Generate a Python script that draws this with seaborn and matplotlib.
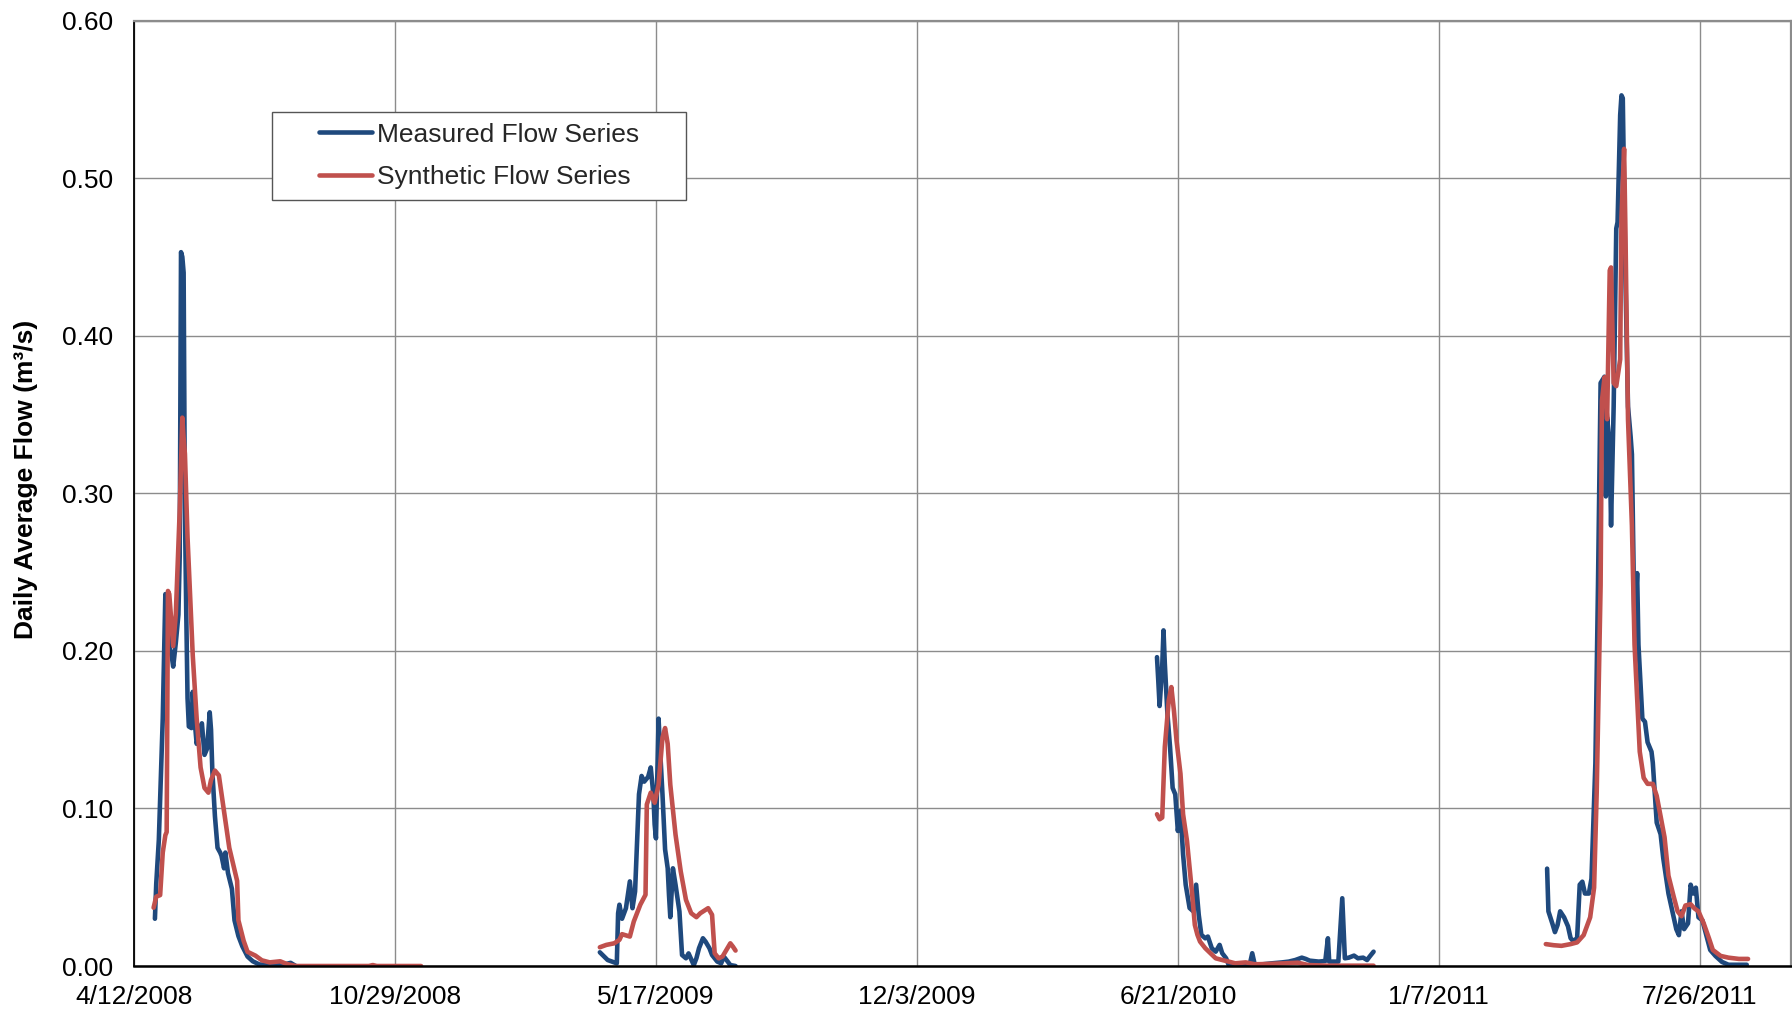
import matplotlib
matplotlib.use("Agg")
import matplotlib.pyplot as plt
from matplotlib.lines import Line2D
from matplotlib.legend_handler import HandlerLine2D
import numpy as np
import pandas as pd
import seaborn as sns

# Record start; all day numbers below count from this date
RECORD_START = "2008-04-12"

# --- Measured flow (m3/s), by season ---
MEASURED_2008_DAY = [16, 17, 19, 22, 24, 25, 27, 29, 30, 32, 34, 35, 36, 37, 38, 39, 40, 41, 42, 44,
                     45, 46, 48, 50, 52, 54, 56, 58, 59, 60, 62, 64, 66, 67, 69, 70, 72, 75, 77, 80,
                     83, 87, 91, 96, 106, 115, 120, 124]
MEASURED_2008_FLOW = [0.030, 0.052, 0.080, 0.157, 0.236, 0.230, 0.203, 0.196, 0.190, 0.205, 0.223,
                      0.260, 0.453, 0.450, 0.440, 0.289, 0.225, 0.170, 0.152, 0.151, 0.174, 0.160,
                      0.141, 0.148, 0.154, 0.134, 0.138, 0.161, 0.150, 0.124, 0.095, 0.075, 0.072,
                      0.070, 0.062, 0.072, 0.059, 0.049, 0.029, 0.019, 0.0125, 0.006, 0.003, 0.001,
                      0.0005, 0.001, 0.002, 0.0]

MEASURED_2009_DAY = [357, 363, 370, 371, 372, 374, 377, 380, 382, 384, 387, 389, 391, 394, 396, 398,
                     399, 400, 402, 403, 405, 407, 409, 410, 411, 413, 415, 418, 420, 423, 425, 429,
                     431, 433, 436, 438, 441, 443, 447, 450, 452, 455, 457, 461]
MEASURED_2009_FLOW = [0.0087, 0.0038, 0.0017, 0.0335, 0.0389, 0.030, 0.0367, 0.0537, 0.0367, 0.0473,
                      0.109, 0.1206, 0.117, 0.120, 0.126, 0.109, 0.0898, 0.081, 0.157, 0.140, 0.109,
                      0.074, 0.062, 0.045, 0.031, 0.062, 0.0516, 0.0346, 0.007, 0.0049, 0.008, 0.0006,
                      0.0049, 0.0113, 0.0176, 0.0155, 0.0113, 0.007, 0.0028, 0.0017, 0.006, 0.0028,
                      0.0006, 0.0]

MEASURED_2010_DAY = [784, 785, 786, 788, 789, 790, 792, 794, 796, 798, 800, 802, 804, 806, 809, 812,
                     814, 816, 818, 821, 823, 826, 829, 832, 834, 837, 839, 844, 852, 855, 857, 859,
                     864, 872, 880, 885, 890, 895, 898, 901, 908, 913, 915, 916, 923, 926, 928, 931,
                     935, 938, 942, 945, 947, 950]
MEASURED_2010_FLOW = [0.196, 0.181, 0.165, 0.190, 0.213, 0.192, 0.160, 0.139, 0.113, 0.109, 0.0857,
                      0.0984, 0.0708, 0.0516, 0.0368, 0.0346, 0.0516, 0.0325, 0.0198, 0.0176, 0.0187,
                      0.0113, 0.0091, 0.0134, 0.0081, 0.0049, 0.0006, 0.0, 0.0, 0.0006, 0.0081,
                      0.0006, 0.001, 0.0017, 0.0023, 0.0028, 0.0038, 0.0053, 0.0045, 0.0034, 0.0028,
                      0.0032, 0.0176, 0.0028, 0.0028, 0.043, 0.0049, 0.0053, 0.0066, 0.0049, 0.0053,
                      0.0038, 0.006, 0.0091]

MEASURED_2011_DAY = [1083, 1084, 1087, 1089, 1091, 1093, 1096, 1099, 1101, 1103, 1106, 1108, 1110,
                     1112, 1115, 1117, 1120, 1122, 1124, 1127, 1128, 1129, 1131, 1132, 1134, 1136,
                     1137, 1139, 1140, 1141, 1143, 1145, 1147, 1148, 1150, 1152, 1153, 1156, 1158,
                     1160, 1163, 1164, 1167, 1170, 1172, 1176, 1179, 1182, 1184, 1186, 1188, 1191,
                     1193, 1195, 1197, 1199, 1202, 1205, 1208, 1212, 1217, 1222, 1236]
MEASURED_2011_FLOW = [0.0618, 0.0347, 0.027, 0.0215, 0.026, 0.0347, 0.0309, 0.0252, 0.0177, 0.0158,
                      0.0177, 0.0516, 0.0535, 0.046, 0.046, 0.0554, 0.1288, 0.2418, 0.370, 0.374,
                      0.298, 0.348, 0.330, 0.2795, 0.355, 0.468, 0.472, 0.540, 0.5525, 0.5507,
                      0.4377, 0.355, 0.336, 0.3247, 0.2117, 0.2493, 0.204, 0.157, 0.155, 0.142,
                      0.136, 0.129, 0.091, 0.0836, 0.0685, 0.046, 0.0347, 0.0234, 0.0196, 0.0347,
                      0.0234, 0.0271, 0.0516, 0.046, 0.0497, 0.0309, 0.029, 0.0196, 0.0102, 0.0064,
                      0.0026, 0.0008, 0.0008]

# --- Synthetic flow (m3/s), by season ---
SYNTHETIC_2008_DAY = [15, 17, 20, 22, 24, 25, 26, 27, 28, 30, 32, 35, 37, 38, 39, 41, 45, 48, 51, 54,
                      57, 59, 62, 65, 69, 73, 79, 80, 84, 87, 93, 98, 104, 112, 117, 124, 180, 183,
                      186, 220]
SYNTHETIC_2008_FLOW = [0.037, 0.044, 0.045, 0.072, 0.083, 0.085, 0.238, 0.236, 0.225, 0.203, 0.223,
                       0.289, 0.348, 0.335, 0.325, 0.272, 0.197, 0.157, 0.126, 0.113, 0.110, 0.118,
                       0.124, 0.121, 0.098, 0.075, 0.054, 0.029, 0.016, 0.009, 0.0066, 0.0036,
                       0.0023, 0.003, 0.0013, 0.0, 0.0, 0.0006, 0.0, 0.0]

SYNTHETIC_2009_DAY = [357, 362, 368, 372, 374, 380, 383, 388, 392, 393, 396, 399, 402, 405, 407, 409,
                      411, 415, 419, 423, 427, 431, 434, 440, 443, 445, 448, 451, 454, 457, 459, 461]
SYNTHETIC_2009_FLOW = [0.0119, 0.0134, 0.0144, 0.0166, 0.0202, 0.0187, 0.0282, 0.0389, 0.0452,
                       0.1025, 0.110, 0.1036, 0.115, 0.145, 0.151, 0.141, 0.115, 0.0834, 0.060,
                       0.042, 0.0335, 0.031, 0.0335, 0.0367, 0.0325, 0.0081, 0.0049, 0.006, 0.0102,
                       0.0144, 0.0123, 0.0098]

SYNTHETIC_2010_DAY = [784, 786, 788, 790, 793, 795, 797, 799, 802, 804, 807, 809, 811, 813, 815, 817,
                      821, 825, 829, 834, 839, 844, 852, 859, 869, 882, 892, 900, 915, 950]
SYNTHETIC_2010_FLOW = [0.0963, 0.0931, 0.0942, 0.139, 0.1685, 0.177, 0.162, 0.143, 0.122, 0.0963,
                       0.0793, 0.0623, 0.0453, 0.0261, 0.0198, 0.0155, 0.0113, 0.0081, 0.0049,
                       0.0038, 0.0028, 0.0017, 0.0023, 0.0011, 0.0013, 0.0017, 0.0021, 0.0006,
                       0.0002, 0.0002]

SYNTHETIC_2011_DAY = [1082, 1088, 1094, 1101, 1106, 1111, 1116, 1119, 1121, 1124, 1125, 1127, 1129,
                      1131, 1132, 1134, 1136, 1139, 1140, 1142, 1143, 1145, 1148, 1150, 1154, 1157,
                      1160, 1164, 1167, 1170, 1173, 1176, 1180, 1183, 1186, 1189, 1193, 1196, 1199,
                      1203, 1207, 1210, 1216, 1222, 1230, 1237]
SYNTHETIC_2011_FLOW = [0.0139, 0.0132, 0.0128, 0.0139, 0.015, 0.0196, 0.0309, 0.0497, 0.110, 0.2418,
                       0.3586, 0.3736, 0.347, 0.4414, 0.4433, 0.370, 0.368, 0.385, 0.4753, 0.5186,
                       0.4678, 0.347, 0.2795, 0.204, 0.136, 0.1194, 0.1156, 0.1156, 0.108, 0.0949,
                       0.0817, 0.0573, 0.0441, 0.0347, 0.0316, 0.0384, 0.0392, 0.0365, 0.0347,
                       0.0271, 0.0177, 0.0102, 0.0064, 0.0053, 0.0045, 0.0045]

SERIES_NAMES = ["Measured Flow Series", "Synthetic Flow Series"]
SERIES_COLORS = ["#1F497D", "#C0504D"]

X_TICK_LABELS = ["4/12/2008", "10/29/2008", "5/17/2009", "12/3/2009",
                 "6/21/2010", "1/7/2011", "7/26/2011"]
X_END = "2011-10-04"
Y_TICKS = [0.0, 0.1, 0.2, 0.3, 0.4, 0.5, 0.6]
Y_LABEL = "Daily Average Flow (m³/s)"

# ---------------------------------------------------------------------------
segments = [
    (SERIES_NAMES[0], "2008", MEASURED_2008_DAY, MEASURED_2008_FLOW),
    (SERIES_NAMES[0], "2009", MEASURED_2009_DAY, MEASURED_2009_FLOW),
    (SERIES_NAMES[0], "2010", MEASURED_2010_DAY, MEASURED_2010_FLOW),
    (SERIES_NAMES[0], "2011", MEASURED_2011_DAY, MEASURED_2011_FLOW),
    (SERIES_NAMES[1], "2008", SYNTHETIC_2008_DAY, SYNTHETIC_2008_FLOW),
    (SERIES_NAMES[1], "2009", SYNTHETIC_2009_DAY, SYNTHETIC_2009_FLOW),
    (SERIES_NAMES[1], "2010", SYNTHETIC_2010_DAY, SYNTHETIC_2010_FLOW),
    (SERIES_NAMES[1], "2011", SYNTHETIC_2011_DAY, SYNTHETIC_2011_FLOW),
]
start = pd.Timestamp(RECORD_START)
frames = []
for name, season, days, flows in segments:
    frames.append(pd.DataFrame({
        "date": start + pd.to_timedelta(days, unit="D"),
        "flow": flows,
        "series": name,
        "season": season,
    }))
df = pd.concat(frames, ignore_index=True)

sns.set_theme(style="white")
plt.rcParams["font.family"] = ["Liberation Sans", "DejaVu Sans"]

LINE_WIDTH = 3.3

fig = plt.figure(figsize=(17.92, 10.11), dpi=100)
ax = fig.add_axes([0.0748, 0.0445, 0.9995 - 0.0748, 0.9797 - 0.0445])

palette = dict(zip(SERIES_NAMES, SERIES_COLORS))
sns.lineplot(data=df, x="date", y="flow", hue="series", hue_order=SERIES_NAMES,
             units="season", estimator=None, sort=False, palette=palette,
             linewidth=LINE_WIDTH, legend=False, ax=ax)
for line in ax.lines:
    line.set_solid_capstyle("round")
    line.set_solid_joinstyle("round")

# Axes ranges and ticks
ax.set_xlim(pd.Timestamp(X_TICK_LABELS[0]), pd.Timestamp(X_END))
ax.set_ylim(Y_TICKS[0], Y_TICKS[-1])
ax.set_xticks(pd.to_datetime(X_TICK_LABELS, format="%m/%d/%Y"))
ax.set_xticklabels(X_TICK_LABELS)
ax.set_yticks(Y_TICKS)
ax.set_yticklabels([f"{v:.2f}" for v in Y_TICKS])
ax.tick_params(axis="both", labelsize=19, colors="black", direction="out")
ax.tick_params(axis="x", length=6.5, width=1.0, pad=7, color="#333333")
ax.tick_params(axis="y", length=6, width=1.0, pad=9, color="#333333")

ax.set_xlabel("")
ax.set_ylabel(Y_LABEL, fontsize=19, fontweight="bold", color="black")
ax.yaxis.set_label_coords(-0.058, 0.515)

# Grid and frame
ax.grid(True, color="#8c8c8c", linewidth=1.0)
ax.set_axisbelow(True)
for side in ("top", "right"):
    ax.spines[side].set_color("#8c8c8c")
    ax.spines[side].set_linewidth(1.6)
ax.spines["left"].set_color("black")
ax.spines["left"].set_linewidth(1.3)
ax.spines["bottom"].set_color("black")
ax.spines["bottom"].set_linewidth(1.8)

# Legend
handles = [Line2D([], [], color=c, linewidth=LINE_WIDTH, solid_capstyle="round")
           for c in SERIES_COLORS]
leg = ax.legend(handles, SERIES_NAMES, loc="upper left",
                bbox_to_anchor=(0.0832, 0.0, 0.2497, 0.9032), mode="expand",
                borderaxespad=0.0, fontsize=19, frameon=True, fancybox=False,
                borderpad=0.4, labelspacing=0.7, handlelength=3.4, handletextpad=0.2,
                handler_map={Line2D: HandlerLine2D(xpad=1.4)})
frame = leg.get_frame()
frame.set_edgecolor("#555555")
frame.set_linewidth(1.0)
frame.set_alpha(1.0)

fig.savefig("out.png", dpi=100)
